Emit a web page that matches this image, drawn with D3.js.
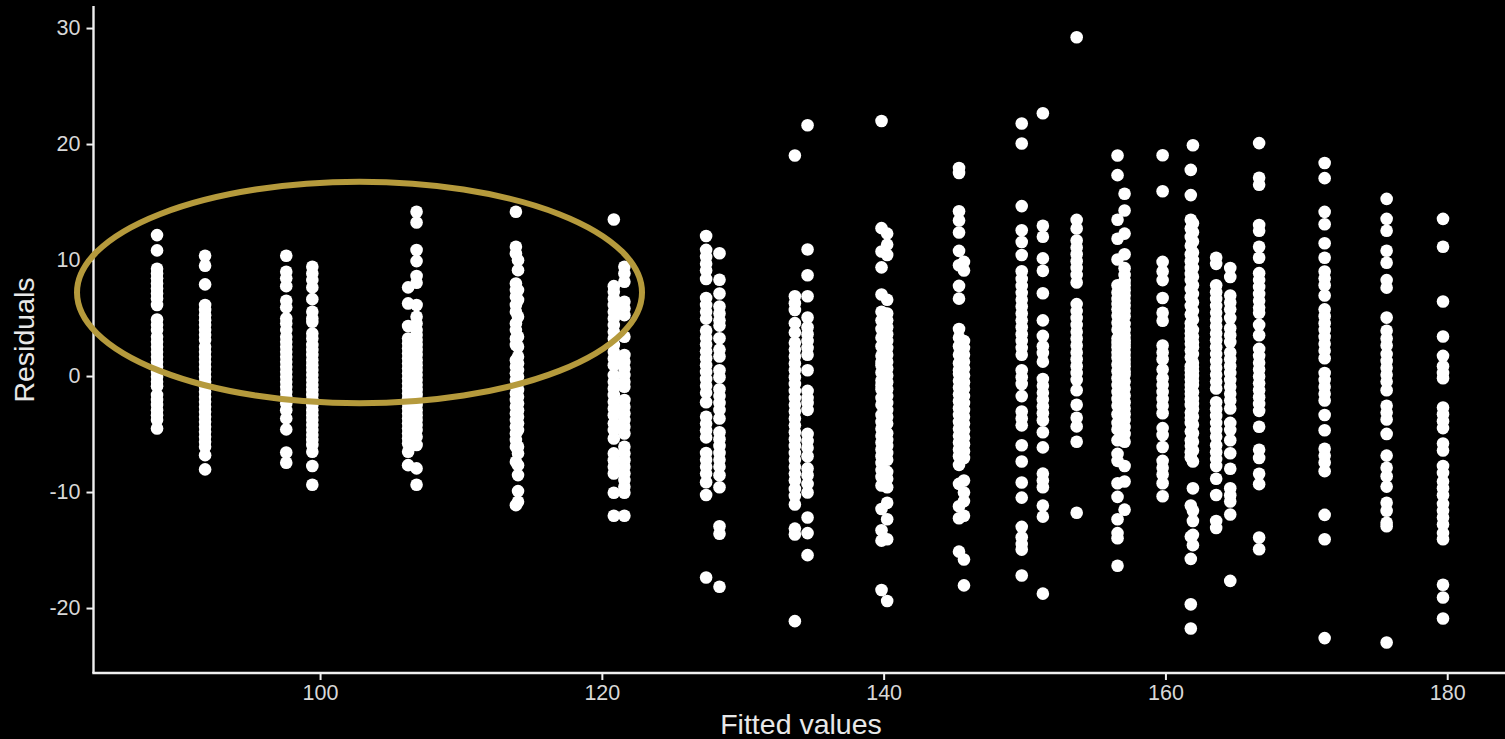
<!DOCTYPE html>
<html><head><meta charset="utf-8">
<style>html,body{margin:0;padding:0;background:#000;overflow:hidden}svg{display:block}</style>
<script src="https://cdn.jsdelivr.net/npm/d3@7"></script></head>
<body><svg id="c" width="1505" height="739"></svg>
<script>
const xTicks=[100,120,140,160,180];
const yTicks=[-20,-10,0,10,20,30];
const xTitle="Fitted values", yTitle="Residuals";
const fittedValues=[88.43,91.84,97.6,99.45,106.25,106.85,113.9,114.05,120.85,121.6,127.4,128.35,133.7,134.6,139.85,140.25,145.35,145.7,149.8,151.3,153.7,156.6,157.1,159.8,161.8,161.95,163.6,164.6,166.65,171.3,175.7,179.7];
const r01=[12.15,10.83,9.25,8.85,8.42,7.98,7.55,7.12,6.69,6.12,4.88,4.39,3.96,3.39,2.96,2.52,2.09,1.66,1.23,.8,.37,-.06,-.49,-.87,-1.64,-2.07,-2.5,-2.94,-3.37,-3.8,-4.52];
const r02=[10.37,9.51,7.9,6.12,5.69,5.25,4.82,4.39,3.96,3.53,3.1,2.52,2.09,1.66,1.23,.8,.37,-.06,-.49,-.92,-1.35,-1.79,-2.22,-2.65,-3.08,-3.51,-3.94,-4.37,-4.8,-5.23,-5.67,-6.1,-6.82,-8.05];
const r03=[10.37,8.99,8.42,7.75,6.49,5.92,4.97,4.54,3.96,3.39,2.96,2.52,2.09,1.66,1.23,.8,.37,-.06,-.49,-.92,-1.35,-1.79,-2.36,-2.94,-3.65,-4.6,-6.59,-7.48];
const r04=[9.42,8.85,8.27,7.64,6.63,5.54,4.97,4.68,3.67,3.24,2.67,2.24,1.81,1.37,.94,.51,.08,-.35,-.78,-1.21,-1.64,-2.07,-2.5,-2.94,-3.37,-3.8,-4.23,-4.66,-5.09,-5.52,-5.95,-6.53,-7.76,-9.37];
const r05=[7.64,6.26,4.31,3.24,2.81,2.38,1.95,1.52,1.09,.66,.23,-.21,-.64,-1.07,-1.5,-1.93,-2.36,-2.79,-3.22,-3.65,-4.08,-4.52,-4.95,-5.38,-5.81,-6.53,-7.68];
const r06=[14.16,13.24,10.86,9.91,8.62,8.04,6.12,5.11,4.54,3.96,3.53,3.1,2.67,2.24,1.81,1.37,.94,.51,.08,-.35,-.78,-1.21,-1.64,-2.07,-2.5,-2.94,-3.37,-3.8,-4.23,-4.66,-5.23,-5.95,-7.96,-9.37];
const r07=[14.16,11.14,10.57,7.98,7.41,6.83,6.12,5.54,4.54,3.96,3.24,2.67,1.37,.8,.23,-.35,-.92,-1.5,-2.07,-2.65,-3.22,-3.8,-4.37,-4.95,-5.52,-6.1,-7.39,-11.13];
const r08=[9.99,9.13,7.41,6.55,5.11,3.39,2.52,1.66,1.09,.51,-.06,-.64,-1.21,-1.79,-2.36,-2.94,-3.51,-4.08,-4.66,-6.1,-6.67,-7.68,-8.54,-9.92,-10.84];
const r09=[13.5,7.75,7.27,6.69,6.12,5.54,4.97,4.39,3.82,3.24,2.67,2.09,1.52,.94,.08,-.49,-1.07,-1.64,-2.22,-2.79,-3.37,-4.08,-4.66,-5.38,-6.67,-7.25,-7.82,-8.4,-10.06,-12.05];
const r10=[9.42,8.85,8.13,6.4,5.83,5.25,3.39,1.81,1.23,.66,.08,-.49,-.92,-2.07,-2.65,-3.22,-3.8,-4.37,-4.95,-6.1,-6.67,-7.25,-7.82,-8.4,-8.97,-9.55,-10.06,-12.05];
const r11=[12.07,10.88,10.29,9.69,9.1,8.36,6.73,6.13,5.54,4.95,3.91,3.31,2.72,2.13,1.54,.94,.35,-.25,-.84,-1.43,-2.26,-3.51,-4.1,-4.7,-5.29,-6.63,-7.22,-7.81,-8.41,-9.15,-10.25,-17.37];
const r12=[10.58,8.3,7.11,5.99,5.39,4.8,4.35,3.26,2.28,1.68,.5,-.1,-1.14,-1.73,-2.32,-2.92,-3.66,-4.85,-5.44,-6.03,-6.63,-7.22,-7.81,-8.55,-9.59,-12.95,-13.6,-18.17];
const r13=[19.01,6.88,6.28,5.69,4.56,3.76,2.87,2.28,1.68,1.09,.5,-.1,-.69,-1.28,-1.88,-2.47,-3.06,-3.66,-4.25,-4.85,-5.44,-6.03,-6.63,-7.22,-7.81,-8.41,-9,-9.74,-10.33,-11.08,-13.15,-13.66,-21.13];
const r14=[21.62,10.91,8.69,6.88,5.04,4.2,3.61,3.02,2.43,1.83,.5,-1.28,-1.88,-2.32,-2.92,-4.99,-5.59,-6.18,-6.92,-7.96,-8.55,-9.3,-10.04,-12.2,-13.54,-15.44];
const r15=[21.98,12.75,10.73,9.37,7.03,5.54,4.8,4.06,3.31,2.57,1.75,1.2,.94,.3,-.39,-.8,-1.14,-1.88,-2.47,-3.36,-3.95,-4.55,-5.14,-5.73,-6.33,-6.92,-7.5,-8.11,-8.7,-9.44,-11.46,-13.3,-14.19,-18.44];
const r16=[12.28,11.33,10.44,6.58,5.39,4.8,4.2,3.61,3.02,2.43,1.83,1.24,.65,.05,-.54,-1.14,-1.73,-2.32,-2.92,-3.51,-4.1,-4.93,-5.5,-6.03,-6.63,-7.22,-8.26,-8.85,-9.59,-10.93,-12.35,-14.07,-19.39];
const r17=[17.94,17.5,14.2,13.41,12.37,10.79,9.55,7.77,6.67,4.06,3.31,2.57,1.83,1.1,.5,.2,-.4,-.99,-1.58,-2.17,-2.77,-3.36,-3.95,-4.55,-5.14,-5.73,-6.33,-6.92,-7.66,-9.3,-11.23,-12.26,-15.14];
const r18=[9.84,9.1,3.02,2.43,1.83,1.24,.65,.05,-.54,-1.1,-1.73,-2.32,-2.92,-3.51,-4.1,-4.7,-5.29,-5.88,-6.48,-7.07,-9,-10.04,-10.78,-12.05,-15.82,-18.05];
const r19=[21.77,20.05,14.65,12.57,11.56,10.44,9.04,8.36,7.77,7.17,6.58,5.99,5.39,4.8,4.2,3.61,3.02,2.43,1.83,.5,-.1,-.69,-1.73,-3.06,-3.66,-4.25,-5.97,-7.37,-9.18,-10.48,-13,-13.9,-14.49,-14.96,-17.19];
const r20=[22.66,12.96,12.01,10.14,9.07,7.14,4.8,3.46,2.57,1.98,1.24,-.25,-.84,-1.43,-2.02,-2.62,-3.21,-3.81,-4.85,-6.15,-8.41,-9,-9.59,-11.17,-12.12,-18.76];
const r21=[29.2,13.46,12.72,11.68,11.09,10.5,9.9,9.31,8.72,8.06,6.2,5.6,5.01,4.41,3.82,3.23,2.63,2.04,1.45,.85,.26,-.33,-1.22,-2.47,-3.6,-4.34,-5.67,-11.79];
const r22=[19.01,17.32,13.47,11.83,10.05,7.83,7.2,6.64,6.2,5.75,5.2,4.6,4,3.23,2.85,2.49,2,1.6,1,.41,-.19,-.78,-1.37,-1.97,-2.56,-3.3,-4.04,-4.6,-5.53,-6.71,-7.31,-9.24,-10.42,-12.35,-13.54,-13.98,-16.36];
const r23=[15.72,14.27,12.28,10.5,9.3,8.72,8.2,7.83,7.4,6.94,6.5,6.05,5.6,5.16,4.5,3.97,3.5,3.08,2.8,2.49,2,1.6,1.2,.85,.4,.11,-.48,-1.07,-1.67,-2.26,-2.8,-3.3,-3.8,-4.4,-4.99,-5.67,-7.75,-9.09,-11.52];
const r24=[19.04,15.93,9.84,9.01,8.27,6.73,5.45,4.77,2.63,2.04,1.45,.56,-.19,-.78,-1.37,-1.97,-2.56,-3.21,-4.49,-5.08,-6.12,-7.31,-7.9,-8.49,-9.24,-10.36];
const r25=[17.77,15.6,13.47,12.72,11.98,11.24,10.5,9.9,9.31,8.8,8.27,7.5,6.79,6.05,5.3,4.56,4.1,3.67,3.2,2.78,2.2,1.6,.85,.5,.11,-.3,-.78,-1.15,-1.52,-2,-2.5,-3.15,-3.6,-4.04,-4.78,-5.53,-6,-6.57,-7,-11.16,-13.84,-15.76,-19.68,-21.76];
const r26=[19.9,13.17,12.4,11.6,10.65,10,9.31,8.57,7.83,7.08,6.34,5.6,4.86,3.97,3.4,2.9,2.49,1.89,1.15,.8,.41,0,-.4,-.78,-1.4,-1.97,-2.4,-2.86,-3.5,-4.19,-4.93,-5.67,-6.42,-7.37,-9.68,-11.61,-12.5,-13.69,-14.58];
const r27=[10.2,9.67,7.83,7.23,6.64,6.05,5.45,4.86,4.27,3.67,3.08,2.49,1.89,1.3,.71,.11,-.48,-1.07,-2.26,-2.86,-3.45,-4.04,-4.64,-5.23,-5.97,-6.57,-7.16,-7.75,-8.85,-10.25,-12.5,-13.1];
const r28=[9.31,8.54,6.94,6.34,5.75,5.01,4.12,3.52,2.93,2.04,1.45,.85,.26,-.33,-.93,-1.52,-2.11,-2.8,-4.04,-4.64,-5.53,-6.65,-7.99,-9.68,-10.27,-10.81,-11.94,-17.66];
const r29=[20.08,17.09,16.49,13.02,12.52,11.15,10.2,8.87,8.27,7.68,7.08,6.49,5.9,5.45,4.41,3.52,2.34,1.74,1.15,.56,-.04,-.63,-1.22,-1.82,-2.41,-3,-4.37,-6.36,-7.07,-8.43,-9.32,-13.92,-14.93];
const r30=[18.36,17.06,14.15,13.08,11.45,10.2,9.01,8.42,7.83,6.94,5.75,5.16,4.56,3.97,3.38,2.78,2.19,1.54,.26,-.33,-.93,-1.52,-2.11,-3.36,-4.67,-6.27,-6.86,-7.46,-8.2,-11.97,-14.07,-22.59];
const r31=[15.27,13.55,12.52,10.8,9.76,8.27,7.62,5.04,3.91,3.23,2.63,1.89,1.3,.71,.11,-.48,-1.22,-2.56,-3.15,-3.75,-4.99,-6.86,-7.9,-8.64,-9.53,-10.93,-11.61,-12.65,-12.95,-22.97];
const r32=[13.55,11.15,6.43,3.41,1.74,.85,.26,-.19,-2.71,-3.3,-3.89,-4.49,-5.82,-6.42,-7.75,-8.35,-9.09,-9.68,-10.27,-11.02,-11.61,-12.2,-12.8,-13.54,-14.07,-17.99,-19.09,-20.9];
const residuals=[r01,r02,r03,r04,r05,r06,r07,r08,r09,r10,r11,r12,r13,r14,r15,r16,r17,r18,r19,r20,r21,r22,r23,r24,r25,r26,r27,r28,r29,r30,r31,r32];
const highlightCentre=[102.8,7.2], highlightRadii=[20.05,9.55];

const svg=d3.select("#c");
const font="'Liberation Sans',Arial,sans-serif";
const x=d3.scaleLinear().domain([83.92,184.1]).range([93.5,1505]);
const y=d3.scaleLinear().domain([-25.6,31.9]).range([673,6]);
const pts=residuals.flatMap((col,i)=>col.map(v=>[fittedValues[i],v]));
svg.append("g").selectAll("circle").data(pts).join("circle")
  .attr("cx",d=>x(d[0])).attr("cy",d=>y(d[1])).attr("r",6.3).attr("fill","#fff");
const ax=svg.append("g").attr("transform","translate(0,673)")
  .call(d3.axisBottom(x).tickValues(xTicks).tickSize(7).tickPadding(5).tickFormat(String));
const ay=svg.append("g").attr("transform","translate(93.5,0)")
  .call(d3.axisLeft(y).tickValues(yTicks).tickSize(7).tickPadding(6).tickFormat(String));
[ax,ay].forEach(a=>{
  a.selectAll("path").attr("stroke","#f0f0f0").attr("stroke-width",2.4).attr("d",a===ax?"M92.3,0H1505":"M0,6V673");
  a.selectAll("line").attr("stroke","#f0f0f0").attr("stroke-width",2);
  a.selectAll("text").attr("fill","#d8d8d8").style("font-family",font).style("font-size","21.5px");
});
svg.append("text").attr("x",801).attr("y",734).attr("text-anchor","middle").attr("fill","#e8e8e8")
  .style("font-family",font).style("font-size","28.5px").text(xTitle);
svg.append("text").attr("transform","translate(34,340) rotate(-90)").attr("text-anchor","middle").attr("fill","#e8e8e8")
  .style("font-family",font).style("font-size","28.5px").text(yTitle);
svg.append("ellipse")
  .attr("cx",x(highlightCentre[0])).attr("cy",y(highlightCentre[1]))
  .attr("rx",x(highlightCentre[0]+highlightRadii[0])-x(highlightCentre[0]))
  .attr("ry",y(highlightCentre[1]-highlightRadii[1])-y(highlightCentre[1]))
  .attr("fill","none").attr("stroke","#b59a3c").attr("stroke-width",6);
</script></body></html>
